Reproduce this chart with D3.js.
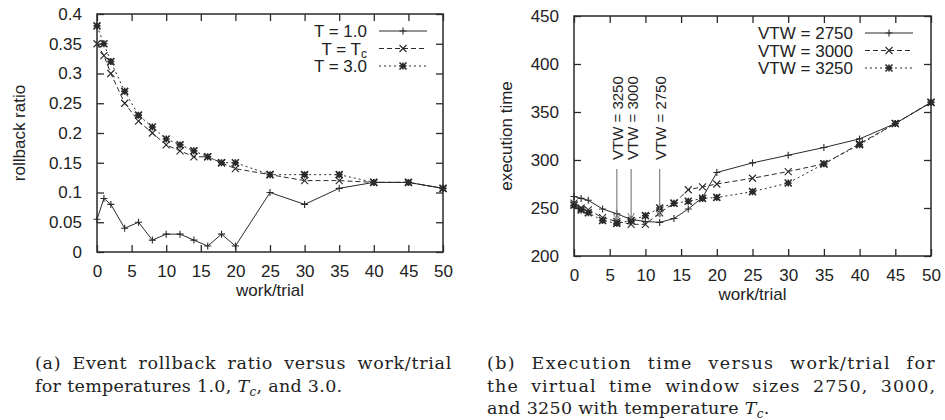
<!DOCTYPE html>
<html>
<head>
<meta charset="utf-8">
<script src="https://cdn.jsdelivr.net/npm/d3@7"></script>
<style>
  body { margin: 0; background: #fff; }
  svg text { fill: #222; }
</style>
</head>
<body>
<div id="chart"></div>
<script>
// Panel (a): rollback ratio
const workA = [0, 1, 2, 4, 6, 8, 10, 12, 14, 16, 18, 20, 25, 30, 35, 40, 45, 50];
const ratioT1 = [0.055, 0.09, 0.08, 0.04, 0.05, 0.02, 0.03, 0.03, 0.02, 0.01, 0.03, 0.01, 0.10, 0.08, 0.107, 0.117, 0.117, 0.107];
const ratioTc = [0.35, 0.33, 0.30, 0.25, 0.22, 0.20, 0.18, 0.17, 0.16, 0.16, 0.15, 0.14, 0.13, 0.12, 0.12, 0.117, 0.117, 0.107];
const ratioT3 = [0.38, 0.35, 0.32, 0.27, 0.23, 0.21, 0.19, 0.18, 0.17, 0.16, 0.15, 0.15, 0.13, 0.13, 0.13, 0.117, 0.117, 0.107];
const namesA = ["T = 1.0", "T = T", "T = 3.0"];
const ticksAx = [0, 5, 10, 15, 20, 25, 30, 35, 40, 45, 50];
const ticksAy = [0, 0.05, 0.1, 0.15, 0.2, 0.25, 0.3, 0.35, 0.4];

// Panel (b): execution time
const workB = [0, 1, 2, 4, 6, 8, 10, 12, 14, 16, 18, 20, 25, 30, 35, 40, 45, 50];
const time2750 = [262, 260, 258, 249, 244, 238, 236, 235, 239, 249, 261, 287, 297, 305, 313, 322, 338, 360];
const time3000 = [255, 250, 248, 240, 236, 233, 233, 245, 255, 269, 272, 275, 281, 288, 296, 317, 338, 360];
const time3250 = [253, 248, 245, 237, 234, 237, 242, 250, 255, 257, 260, 261, 267, 276, 296, 316, 338, 360];
const namesB = ["VTW = 2750", "VTW = 3000", "VTW = 3250"];
const arrowLabels = ["VTW = 3250", "VTW = 3000", "VTW = 2750"];
const arrowWork = [6, 8, 12];
const arrowTime = [234, 235, 237];
const ticksBx = [0, 5, 10, 15, 20, 25, 30, 35, 40, 45, 50];
const ticksBy = [200, 250, 300, 350, 400, 450];

const captionA = ["(a) Event rollback ratio versus work/trial", "for temperatures 1.0, |, and 3.0."];
const captionB = ["(b) Execution time versus work/trial for", "the virtual time window sizes 2750, 3000,", "and 3250 with temperature |."];

const W = 945, H = 420;
const ink = "#2a2a2a";
const font = "'Liberation Sans', Arial, sans-serif";

const svg = d3.select("#chart").append("svg")
    .attr("width", W).attr("height", H)
    .style("font-family", font);

const styles = [
    { dash: null, marker: "plus" },
    { dash: "5,3", marker: "cross" },
    { dash: "2,3", marker: "star" }
];

function drawMarker(g, kind, x, y) {
    const s = 3.5;
    const p = d3.path();
    if (kind === "plus" || kind === "star") {
        p.moveTo(x - s, y); p.lineTo(x + s, y);
        p.moveTo(x, y - s); p.lineTo(x, y + s);
    }
    if (kind === "cross" || kind === "star") {
        p.moveTo(x - s, y - s); p.lineTo(x + s, y + s);
        p.moveTo(x - s, y + s); p.lineTo(x + s, y - s);
    }
    g.append("path").attr("d", p.toString())
        .attr("stroke", ink).attr("stroke-width", kind === "star" ? 1.6 : 1.1).attr("fill", "none");
    if (kind === "star") {
        g.append("rect").attr("x", x - 2).attr("y", y - 2).attr("width", 4).attr("height", 4).attr("fill", ink);
    }
}

function panel(cfg) {
    const x = d3.scaleLinear().domain([0, 50]).range([cfg.x0, cfg.x1]);
    const y = d3.scaleLinear().domain(cfg.yDomain).range([cfg.y1, cfg.y0]);
    const g = svg.append("g");

    // frame
    g.append("rect")
        .attr("x", cfg.x0).attr("y", cfg.y0)
        .attr("width", cfg.x1 - cfg.x0).attr("height", cfg.y1 - cfg.y0)
        .attr("fill", "none").attr("stroke", ink).attr("stroke-width", 1.5);

    // inward ticks (gnuplot style) on all four sides
    const tk = 7;
    const bottom = d3.axisBottom(x).tickValues(cfg.ticksX).tickSize(-tk).tickPadding(tk + 6).tickFormat(d3.format("d"));
    const top = d3.axisTop(x).tickValues(cfg.ticksX).tickSize(-tk).tickFormat("");
    const left = d3.axisLeft(y).tickValues(cfg.ticksY).tickSize(-tk).tickPadding(tk + 8).tickFormat(cfg.fmtY);
    const right = d3.axisRight(y).tickValues(cfg.ticksY).tickSize(-tk).tickFormat("");
    [[bottom, `translate(0,${cfg.y1})`], [top, `translate(0,${cfg.y0})`],
     [left, `translate(${cfg.x0},0)`], [right, `translate(${cfg.x1},0)`]].forEach(([ax, tr]) => {
        const a = g.append("g").attr("transform", tr).call(ax);
        a.select(".domain").remove();
        a.selectAll("line").attr("stroke", ink).attr("stroke-width", 1.3);
        a.selectAll("text").attr("font-size", 17).attr("font-family", font).attr("fill", "#222");
    });

    // axis titles
    g.append("text").attr("x", (cfg.x0 + cfg.x1) / 2).attr("y", cfg.y1 + 44)
        .attr("text-anchor", "middle").attr("font-size", 17).text("work/trial");
    g.append("text")
        .attr("transform", `translate(${cfg.yTitleX},${(cfg.y0 + cfg.y1) / 2}) rotate(-90)`)
        .attr("text-anchor", "middle").attr("font-size", 17).text(cfg.yTitle);

    // series
    const line = d3.line().x(d => x(d[0])).y(d => y(d[1]));
    cfg.series.forEach((vals, i) => {
        const pts = cfg.work.map((w, k) => [w, vals[k]]);
        g.append("path").attr("d", line(pts))
            .attr("fill", "none").attr("stroke", ink).attr("stroke-width", 1)
            .attr("stroke-dasharray", styles[i].dash);
        pts.forEach(p => drawMarker(g, styles[i].marker, x(p[0]), y(p[1])));
    });

    // legend
    cfg.names.forEach((name, i) => {
        const ly = cfg.legY + i * 17.5;
        const t = g.append("text").attr("x", cfg.legX).attr("y", ly + 6)
            .attr("text-anchor", "end").attr("font-size", 17);
        if (cfg.subIndex === i) {
            t.append("tspan").text(name);
            t.append("tspan").attr("font-size", 12).attr("dy", 3).text("c");
        } else {
            t.text(name);
        }
        g.append("line").attr("x1", cfg.legX + 12).attr("x2", cfg.legX + 60)
            .attr("y1", ly).attr("y2", ly)
            .attr("stroke", ink).attr("stroke-width", 1).attr("stroke-dasharray", styles[i].dash);
        drawMarker(g, styles[i].marker, cfg.legX + 36, ly);
    });

    return { x, y, g };
}

panel({
    x0: 97, x1: 443, y0: 14, y1: 252,
    yDomain: [0, 0.4], ticksX: ticksAx, ticksY: ticksAy,
    fmtY: d => d3.format("")(+d.toFixed(2)),
    yTitle: "rollback ratio", yTitleX: 25,
    work: workA, series: [ratioT1, ratioTc, ratioT3],
    names: namesA, subIndex: 1, legX: 367, legY: 31
});

const pb = panel({
    x0: 574, x1: 931, y0: 16, y1: 256,
    yDomain: [200, 450], ticksX: ticksBx, ticksY: ticksBy,
    fmtY: d3.format("d"),
    yTitle: "execution time", yTitleX: 512,
    work: workB, series: [time2750, time3000, time3250],
    names: namesB, subIndex: -1, legX: 853, legY: 33
});

// arrows pointing to the minimum of each window size
svg.append("defs").append("marker")
    .attr("id", "head").attr("viewBox", "0 0 10 10")
    .attr("refX", 10).attr("refY", 5)
    .attr("markerWidth", 6).attr("markerHeight", 9)
    .attr("orient", "auto")
    .append("path").attr("d", "M0,0 L10,5 L0,10").attr("fill", "none").attr("stroke", "#777").attr("stroke-width", 1.5);

arrowWork.forEach((w, i) => {
    const ax = pb.x(w);
    pb.g.append("line").attr("x1", ax).attr("x2", ax)
        .attr("y1", 169).attr("y2", pb.y(arrowTime[i]) - 3)
        .attr("stroke", "#777").attr("stroke-width", 1.1)
        .attr("marker-end", "url(#head)");
    pb.g.append("text")
        .attr("transform", `translate(${ax + 1},160) rotate(-90)`)
        .attr("dominant-baseline", "central")
        .attr("font-size", 15).text(arrowLabels[i]);
});

// captions: justified serif paragraphs (last line at natural width)
function caption(lines, x0, x1, y0) {
    lines.forEach((ln, i) => {
        const t = svg.append("text").attr("x", x0).attr("y", y0 + i * 22.5)
            .attr("font-family", "'DejaVu Serif', serif").attr("font-size", 17.5);
        const parts = ln.split("|");
        t.append("tspan").text(parts[0]);
        if (parts.length > 1) {
            t.append("tspan").attr("font-style", "italic").text("T");
            t.append("tspan").attr("font-style", "italic").attr("font-size", 12).attr("dy", 4).text("c");
            t.append("tspan").attr("dy", -4).text(parts[1]);
        }
        if (i < lines.length - 1) {
            const natural = t.node().getComputedTextLength();
            const gaps = (ln.match(/ /g) || []).length;
            const extra = (x1 - x0) - natural;
            if (gaps > 0 && extra > 0) {
                t.attr("letter-spacing", 0.55 * extra / ln.length)
                 .attr("word-spacing", 0.45 * extra / gaps);
            }
        } else {
            t.attr("letter-spacing", 0.3);
        }
    });
}
caption(captionA, 35, 452, 369);
caption(captionB, 487, 936, 369);
</script>
</body>
</html>
